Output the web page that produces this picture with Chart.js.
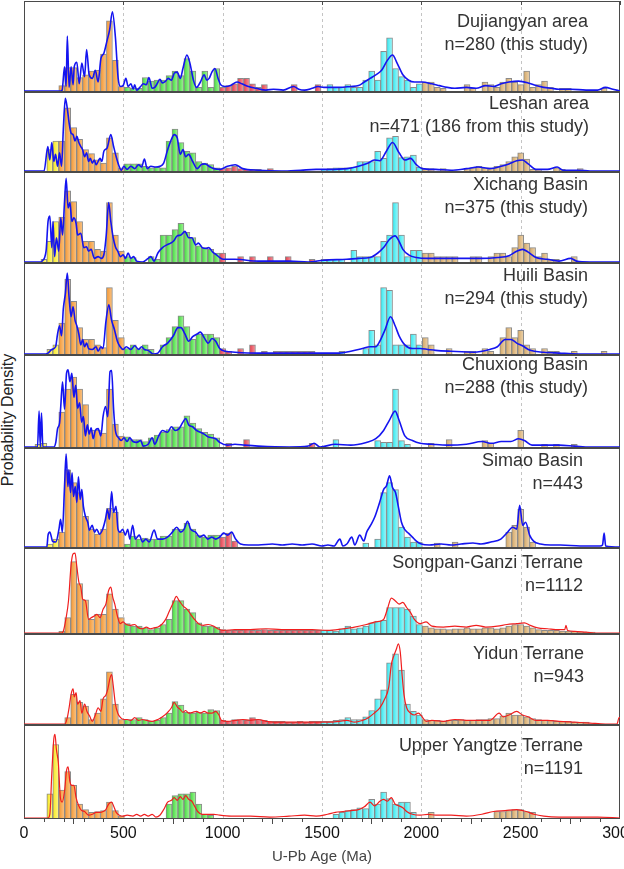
<!DOCTYPE html>
<html>
<head>
<meta charset="utf-8">
<title>Detrital zircon U-Pb age spectra</title>
<script src="https://cdn.jsdelivr.net/npm/chart.js@4.4.0/dist/chart.umd.min.js"></script>
<style>
  html, body { margin: 0; padding: 0; background: #fff; }
  #wrap { position: relative; width: 624px; height: 869px; overflow: hidden; font-family: "Liberation Sans", Arial, sans-serif; }
  #wrap canvas { position: absolute; left: 0; }
  .tag { position: absolute; text-align: right; font-size: 18px; line-height: 23px; color: #333; white-space: nowrap; }
  #ylab { position: absolute; left: 8px; top: 420px; transform: translate(-50%, -50%) rotate(-90deg); font-size: 16px; color: #222; white-space: nowrap; }
</style>
</head>
<body>
<div id="wrap">
  <div id="ylab">Probability Density</div>
</div>
<script>
// Panel titles and sample counts
const panelNames = ['Dujiangyan area', 'Leshan area', 'Xichang Basin', 'Huili Basin', 'Chuxiong Basin',
    'Simao Basin', 'Songpan-Ganzi Terrane', 'Yidun Terrane', 'Upper Yangtze Terrane'];
const panelCounts = ['n=280 (this study)', 'n=471 (186 from this study)', 'n=375 (this study)', 'n=294 (this study)',
    'n=288 (this study)', 'n=443', 'n=1112', 'n=943', 'n=1191'];

// Histogram bins: 30 Ma wide, centred at 10, 40, 70 ... 2980 Ma
const binWidth = 30;
const binCenters = Array.from({ length: 100 }, (_, j) => 10 + binWidth * j);
const xTicks = [0, 500, 1000, 1500, 2000, 2500, 3000];

// Bar heights (percent of panel height), one value per bin
const histDujiangyan = [
    0, 0, 0, 0, 0, 0, 6, 26, 26, 15,
    18, 22, 23, 41, 78, 34, 5, 4, 3, 3,
    15, 11, 12, 12, 17, 22, 17, 36, 22, 4,
    22, 4, 25, 4, 6, 8, 14, 14, 8, 4,
    7, 0, 0, 0, 0, 7, 0, 0, 0, 7,
    0, 7, 4, 4, 7, 4, 4, 12, 22, 12,
    44, 59, 25, 16, 12, 4, 8, 10, 10, 4,
    3, 0, 0, 0, 7, 3, 0, 10, 7, 4,
    10, 14, 10, 7, 22, 4, 7, 11, 4, 0,
    3, 3, 0, 0, 0, 0, 0, 3, 0, 0];
const histLeshan = [
    0, 0, 0, 0, 27, 38, 38, 80, 55, 40,
    27, 22, 14, 10, 42, 23, 4, 9, 9, 9,
    6, 4, 5, 4, 38, 53, 36, 25, 23, 12,
    10, 8, 4, 3, 4, 6, 3, 2, 2, 2,
    0, 3, 0, 0, 0, 0, 0, 0, 0, 0,
    2, 3, 4, 4, 4, 5, 12, 12, 12, 25,
    16, 42, 44, 17, 18, 20, 5, 3, 3, 0,
    3, 0, 0, 0, 3, 4, 6, 4, 4, 6,
    8, 12, 18, 23, 15, 2, 2, 0, 0, 4,
    2, 0, 0, 3, 0, 0, 0, 0, 0, 0];
const histXichang = [
    0, 0, 0, 3, 23, 45, 50, 79, 67, 45,
    23, 23, 14, 12, 66, 30, 12, 6, 5, 0,
    0, 6, 3, 30, 30, 36, 43, 33, 27, 18,
    16, 14, 10, 10, 0, 0, 6, 0, 6, 0,
    0, 6, 0, 0, 6, 0, 0, 0, 3, 0,
    3, 3, 3, 3, 0, 13, 6, 6, 6, 6,
    23, 30, 66, 30, 6, 13, 13, 10, 10, 6,
    6, 6, 6, 0, 0, 6, 6, 0, 6, 10,
    10, 6, 16, 30, 21, 16, 6, 10, 3, 3,
    0, 0, 6, 0, 0, 0, 0, 0, 0, 0];
const histHuili = [
    0, 0, 0, 0, 5, 10, 34, 82, 58, 29,
    16, 16, 10, 7, 73, 37, 18, 6, 10, 6,
    10, 5, 0, 10, 18, 30, 42, 30, 16, 22,
    22, 22, 18, 6, 3, 0, 6, 0, 10, 0,
    3, 0, 3, 3, 3, 3, 3, 3, 3, 0,
    0, 0, 0, 3, 0, 0, 0, 6, 26, 10,
    73, 70, 10, 10, 10, 22, 10, 18, 10, 0,
    0, 6, 0, 0, 3, 3, 0, 6, 3, 0,
    18, 29, 18, 26, 10, 6, 0, 6, 3, 3,
    0, 0, 3, 0, 0, 0, 0, 3, 0, 0];
const histChuxiong = [
    0, 0, 3, 4, 0, 0, 38, 63, 76, 63,
    46, 18, 18, 15, 63, 25, 12, 11, 8, 8,
    6, 10, 13, 16, 19, 22, 22, 34, 26, 20,
    16, 14, 10, 0, 4, 0, 0, 8, 0, 0,
    0, 0, 0, 0, 0, 0, 0, 0, 4, 0,
    0, 0, 8, 0, 0, 0, 0, 0, 0, 7,
    5, 5, 63, 7, 3, 0, 0, 0, 4, 0,
    0, 8, 0, 0, 0, 0, 0, 7, 4, 0,
    0, 0, 0, 18, 0, 0, 0, 3, 0, 3,
    0, 0, 3, 0, 0, 0, 0, 0, 0, 0];
const histSimao = [
    0, 0, 0, 0, 3, 8, 15, 78, 65, 55,
    31, 18, 13, 18, 39, 35, 15, 3, 11, 8,
    9, 8, 8, 11, 11, 18, 18, 24, 18, 12,
    10, 12, 12, 10, 14, 6, 0, 0, 0, 0,
    0, 0, 0, 0, 0, 0, 0, 0, 0, 0,
    0, 0, 0, 0, 0, 0, 0, 4, 0, 8,
    55, 65, 58, 20, 10, 5, 5, 0, 0, 4,
    0, 0, 5, 0, 0, 0, 0, 0, 0, 0,
    0, 15, 22, 38, 20, 5, 0, 0, 0, 0,
    0, 0, 0, 0, 0, 0, 0, 0, 0, 0];
const histSongpan = [
    0, 0, 0, 0, 0, 0, 2, 18, 84, 58,
    39, 16, 22, 22, 46, 28, 18, 11, 8, 8,
    6, 4, 6, 10, 16, 38, 38, 28, 24, 12,
    8, 8, 7, 4, 3, 3, 3, 4, 3, 3,
    4, 3, 3, 3, 3, 3, 3, 3, 3, 3,
    3, 3, 2, 5, 8, 5, 6, 8, 12, 14,
    15, 30, 30, 30, 28, 20, 10, 8, 6, 5,
    5, 4, 5, 5, 6, 5, 5, 6, 6, 5,
    6, 8, 10, 10, 8, 6, 4, 3, 3, 3,
    2, 2, 2, 1, 1, 1, 0, 0, 0, 0];
const histYidun = [
    0, 0, 0, 0, 0, 0, 0, 7, 33, 24,
    20, 5, 12, 28, 58, 22, 5, 5, 5, 7,
    5, 3, 4, 7, 12, 25, 21, 13, 12, 13,
    12, 16, 15, 4, 3, 5, 5, 4, 7, 5,
    4, 3, 3, 3, 2, 2, 3, 2, 3, 3,
    3, 3, 4, 5, 7, 5, 5, 8, 15, 28,
    38, 68, 78, 60, 22, 14, 10, 5, 4, 4,
    3, 4, 4, 5, 4, 4, 5, 5, 6, 6,
    9, 12, 10, 10, 8, 6, 5, 4, 4, 3,
    3, 3, 2, 2, 2, 0, 0, 0, 0, 0];
const histYangtze = [
    0, 0, 0, 0, 26, 79, 30, 50, 35, 15,
    9, 6, 7, 8, 17, 8, 2, 0, 0, 0,
    0, 0, 0, 0, 15, 24, 26, 26, 28, 15,
    4, 3, 0, 0, 0, 0, 0, 0, 0, 0,
    0, 0, 0, 0, 0, 0, 0, 0, 0, 0,
    0, 0, 4, 6, 8, 9, 11, 10, 20, 15,
    28, 21, 15, 17, 17, 6, 0, 0, 6, 0,
    0, 0, 0, 0, 0, 0, 0, 0, 0, 7,
    7, 8, 9, 9, 7, 6, 0, 0, 0, 0,
    0, 0, 0, 0, 0, 0, 0, 0, 0, 0];

// Probability density curves: [age Ma, percent of panel height]
const curveDujiangyan = [[0,0],[185,0],[192,1],[204,27],[212,5],[218,61],[227,4],[237,27],[247,7],[253,27],[266,32],[278,8],[291,31],[305,16],[315,46],[328,18],[344,14],[359,23],[373,10],[387,36],[402,42],[418,56],[431,68],[445,88],[460,60],[474,14],[486,5],[499,6],[513,14],[524,5],[538,8],[550,2],[557,7],[567,1],[587,5],[600,8],[616,7],[629,15],[645,3],[658,4],[670,8],[684,13],[697,9],[713,11],[726,14],[742,12],[757,20],[771,21],[787,14],[800,25],[820,40],[835,31],[853,12],[868,4],[888,10],[907,18],[920,12],[932,14],[946,21],[961,25],[977,14],[990,7],[1014,5],[1039,6],[1072,10],[1097,8],[1130,5],[1169,3],[1218,1],[1256,2],[1305,1],[1357,5],[1383,2],[1412,1],[1451,3],[1480,5],[1509,4],[1587,4],[1645,5],[1684,6],[1713,10],[1742,14],[1771,18],[1800,23],[1829,34],[1855,40],[1878,31],[1907,18],[1936,12],[1965,10],[2004,10],[2053,8],[2091,6],[2130,4],[2169,3],[2227,4],[2276,3],[2324,6],[2363,5],[2402,8],[2441,10],[2489,11],[2538,9],[2577,6],[2616,4],[2654,3],[2693,2],[2752,2],[2829,1],[2887,1],[2926,4],[2964,2],[3000,0]];
const curveLeshan = [[0,0],[101,0],[120,31],[130,14],[140,36],[150,12],[159,21],[169,6],[179,23],[189,6],[198,53],[208,92],[218,79],[227,61],[237,48],[247,46],[257,38],[266,44],[276,36],[286,31],[295,27],[305,18],[315,23],[325,12],[334,16],[344,10],[354,14],[363,8],[383,16],[392,12],[402,25],[418,29],[437,46],[451,31],[464,18],[476,8],[490,1],[503,6],[519,2],[538,6],[557,3],[577,8],[592,5],[606,15],[620,3],[639,6],[664,5],[684,6],[703,10],[723,27],[742,40],[756,46],[771,42],[787,21],[800,27],[814,18],[829,21],[849,12],[872,3],[892,8],[911,9],[931,6],[956,3],[985,2],[1024,6],[1063,8],[1101,3],[1179,1],[1296,0],[1393,1],[1470,2],[1529,2],[1626,3],[1684,6],[1733,10],[1762,14],[1791,13],[1824,25],[1855,36],[1888,23],[1917,14],[1946,16],[1975,8],[2004,3],[2072,2],[2150,1],[2227,3],[2286,5],[2344,3],[2402,6],[2441,9],[2480,13],[2509,14],[2538,9],[2577,2],[2635,2],[2684,5],[2713,1],[2791,1],[2849,0],[3000,0]];
const curveXichang = [[0,0],[85,0],[91,1],[111,12],[121,45],[130,51],[140,16],[146,45],[154,6],[163,27],[175,12],[185,49],[194,30],[204,67],[212,93],[222,60],[231,66],[241,45],[251,49],[262,43],[270,30],[286,32],[301,16],[315,17],[325,12],[338,14],[354,4],[373,6],[389,4],[402,8],[414,30],[426,66],[437,45],[449,27],[460,17],[472,12],[486,6],[499,8],[511,4],[524,10],[538,4],[552,6],[567,1],[596,0],[625,4],[639,6],[654,1],[674,10],[697,16],[719,19],[738,21],[752,23],[771,29],[790,30],[810,34],[829,27],[845,27],[864,19],[878,21],[897,16],[917,15],[930,16],[950,11],[969,8],[985,5],[1004,3],[1062,3],[1179,1],[1334,1],[1431,0],[1509,2],[1625,3],[1684,4],[1742,5],[1781,10],[1810,16],[1839,25],[1868,29],[1888,23],[1907,14],[1936,8],[1975,5],[2033,4],[2208,4],[2305,4],[2383,5],[2441,7],[2480,12],[2509,14],[2538,11],[2577,5],[2635,3],[2693,1],[2752,4],[2781,1],[2849,0],[3000,0]];
const curveHuili = [[0,0],[110,0],[121,1],[140,5],[159,8],[169,22],[179,31],[189,20],[198,50],[208,66],[218,89],[227,62],[237,41],[247,52],[257,37],[266,31],[276,22],[286,10],[295,16],[305,8],[315,12],[325,6],[344,5],[363,8],[373,3],[387,8],[398,6],[412,35],[427,54],[441,37],[455,27],[470,14],[484,8],[499,5],[515,8],[538,5],[557,9],[577,5],[592,8],[606,5],[625,4],[651,0],[674,1],[697,8],[723,12],[752,20],[775,29],[790,29],[810,22],[829,14],[849,19],[872,22],[888,24],[907,18],[927,12],[946,17],[965,14],[985,6],[1014,3],[1062,2],[1179,1],[1334,1],[1470,1],[1587,1],[1645,3],[1703,6],[1742,8],[1771,8],[1791,14],[1816,26],[1845,41],[1868,31],[1888,20],[1917,10],[1955,6],[1994,6],[2033,5],[2072,4],[2150,3],[2266,2],[2344,5],[2383,8],[2422,16],[2451,16],[2480,12],[2509,9],[2548,4],[2616,2],[2693,1],[2791,0],[3000,0]];
const curveChuxiong = [[0,0],[68,0],[76,39],[82,0],[88,37],[95,0],[150,0],[160,5],[169,20],[179,26],[185,44],[194,71],[204,41],[214,80],[222,84],[231,71],[241,80],[251,54],[260,67],[270,42],[280,48],[290,27],[299,33],[309,12],[319,24],[328,14],[338,21],[348,9],[359,18],[373,20],[387,12],[398,33],[410,44],[422,33],[433,82],[441,83],[451,41],[460,18],[476,10],[490,7],[503,10],[519,6],[532,10],[548,6],[567,5],[587,7],[600,1],[625,3],[645,10],[658,3],[678,12],[697,18],[723,16],[742,22],[761,18],[781,20],[800,27],[814,31],[829,24],[849,22],[868,18],[888,16],[907,14],[927,11],[946,10],[965,9],[985,5],[1024,2],[1062,3],[1111,2],[1179,1],[1334,0],[1431,1],[1460,4],[1490,0],[1567,3],[1645,2],[1723,5],[1771,9],[1810,18],[1839,29],[1868,39],[1888,29],[1917,12],[1955,7],[1994,4],[2053,3],[2130,2],[2227,3],[2305,6],[2354,4],[2402,6],[2451,6],[2489,9],[2519,7],[2557,2],[2616,2],[2693,2],[2771,1],[2849,0],[3000,0]];
const curveSimao = [[0,0],[115,0],[121,12],[130,15],[138,10],[143,6],[160,5],[176,18],[184,28],[193,15],[204,61],[212,94],[221,61],[226,78],[234,55],[242,75],[249,51],[258,61],[266,45],[274,71],[283,48],[291,58],[299,41],[309,31],[321,25],[329,17],[343,22],[355,15],[366,18],[380,13],[396,18],[410,28],[420,38],[430,28],[441,56],[451,35],[463,41],[473,18],[483,15],[497,18],[510,12],[522,18],[533,8],[547,22],[560,8],[580,12],[597,5],[613,8],[630,5],[655,17],[672,8],[697,8],[722,10],[747,15],[769,20],[789,15],[806,18],[823,26],[839,18],[864,15],[885,10],[905,12],[925,8],[945,10],[965,8],[985,10],[1005,14],[1025,12],[1045,15],[1065,8],[1090,3],[1130,2],[1180,2],[1250,3],[1300,2],[1350,3],[1400,2],[1450,3],[1500,1],[1530,2],[1560,1],[1590,8],[1605,1],[1625,3],[1650,10],[1665,2],[1690,12],[1710,6],[1725,15],[1745,22],[1765,30],[1790,45],[1810,58],[1825,62],[1840,72],[1855,60],[1870,55],[1885,40],[1900,25],[1915,18],[1935,14],[1955,10],[1975,6],[2000,3],[2040,2],[2100,3],[2150,2],[2200,3],[2260,4],[2300,3],[2350,5],[2400,8],[2430,14],[2460,20],[2480,18],[2495,42],[2510,22],[2525,25],[2545,12],[2565,6],[2600,3],[2650,2],[2700,2],[2800,1],[2900,1],[2912,2],[2920,14],[2928,1],[3000,0]];
const curveSongpan = [[0,0],[190,0],[198,2],[212,18],[224,38],[237,80],[247,93],[257,94],[266,78],[276,60],[286,54],[295,40],[309,38],[325,16],[338,18],[354,20],[367,22],[383,18],[398,28],[412,34],[426,50],[437,54],[447,42],[457,34],[470,20],[484,11],[499,13],[515,10],[538,9],[557,10],[577,6],[596,5],[616,7],[635,5],[654,6],[674,7],[693,10],[713,16],[732,26],[752,36],[767,43],[781,38],[800,32],[820,28],[839,22],[858,16],[878,11],[903,9],[927,10],[956,8],[975,5],[1004,3],[1062,4],[1140,4],[1218,5],[1296,4],[1373,4],[1451,4],[1529,3],[1606,5],[1664,7],[1723,10],[1771,13],[1810,16],[1829,28],[1849,41],[1868,38],[1888,34],[1907,36],[1926,30],[1946,24],[1965,16],[1994,11],[2024,13],[2053,8],[2111,7],[2169,8],[2227,7],[2276,9],[2324,7],[2383,8],[2431,10],[2480,11],[2519,12],[2548,9],[2586,6],[2635,5],[2693,4],[2722,4],[2728,9],[2736,3],[2771,2],[2829,1],[2888,0],[3000,0]];
const curveYidun = [[0,0],[205,0],[218,7],[227,18],[237,33],[247,39],[253,30],[262,35],[270,22],[282,26],[291,12],[305,22],[317,14],[330,9],[344,3],[359,10],[373,18],[387,14],[398,28],[412,32],[422,39],[433,51],[441,55],[449,43],[460,22],[472,12],[486,7],[503,5],[519,5],[538,4],[557,7],[577,4],[596,5],[616,4],[645,3],[674,5],[697,8],[723,13],[742,18],[756,24],[771,19],[787,16],[800,13],[814,15],[829,12],[849,13],[868,14],[888,12],[907,14],[927,12],[946,12],[965,14],[981,10],[994,4],[1024,3],[1062,4],[1101,5],[1140,4],[1179,5],[1218,3],[1296,2],[1373,2],[1451,2],[1529,2],[1587,3],[1625,4],[1664,2],[1703,4],[1733,7],[1762,12],[1791,18],[1816,28],[1836,41],[1849,66],[1862,76],[1874,83],[1884,89],[1894,80],[1903,55],[1913,32],[1926,18],[1946,12],[1965,10],[1985,12],[2004,8],[2024,3],[2053,4],[2111,3],[2169,5],[2227,4],[2286,4],[2344,4],[2392,12],[2412,8],[2441,10],[2480,14],[2509,10],[2538,8],[2577,4],[2635,4],[2693,3],[2771,2],[2849,1],[2926,0],[2985,0],[2995,7],[3000,7]];
const curveYangtze = [[0,0],[120,0],[130,4],[140,48],[150,85],[156,90],[163,74],[173,59],[183,22],[192,17],[204,29],[214,51],[222,55],[231,39],[241,35],[251,35],[262,22],[276,13],[290,8],[305,7],[325,3],[344,4],[363,6],[383,6],[398,7],[412,9],[426,15],[441,17],[451,13],[464,6],[480,3],[499,2],[519,3],[548,2],[567,4],[587,2],[606,4],[625,2],[645,4],[664,1],[684,3],[703,9],[723,17],[742,19],[756,22],[771,19],[787,23],[800,20],[814,24],[829,20],[845,18],[858,13],[874,7],[897,4],[927,4],[956,4],[985,3],[1043,2],[1140,2],[1237,1],[1334,2],[1412,3],[1470,2],[1528,4],[1567,6],[1606,7],[1645,8],[1684,9],[1713,12],[1742,17],[1765,13],[1791,18],[1810,20],[1829,18],[1849,22],[1868,15],[1888,13],[1907,11],[1926,7],[1955,4],[1994,3],[2033,4],[2072,3],[2150,3],[2227,2],[2305,4],[2363,7],[2422,8],[2480,9],[2528,7],[2567,4],[2616,2],[2693,1],[2791,1],[2888,1],[3000,0]];

// Layout: panel borders in page pixels (top of panel 1 ... bottom of panel 9)
const panelEdges = [0, 92, 172, 263, 355, 448, 548, 634, 725, 818];
const tagCenters = [21, 103, 184, 275, 364, 460, 562, 653, 745];
const tagRights = [588, 589, 588, 588, 588, 583, 583, 584, 583];

const panels = [
    { hist: histDujiangyan, curve: curveDujiangyan, line: '#1414f0' },
    { hist: histLeshan, curve: curveLeshan, line: '#1414f0' },
    { hist: histXichang, curve: curveXichang, line: '#1414f0' },
    { hist: histHuili, curve: curveHuili, line: '#1414f0' },
    { hist: histChuxiong, curve: curveChuxiong, line: '#1414f0' },
    { hist: histSimao, curve: curveSimao, line: '#1414f0' },
    { hist: histSongpan, curve: curveSongpan, line: '#f01e1e' },
    { hist: histYidun, curve: curveYidun, line: '#f01e1e' },
    { hist: histYangtze, curve: curveYangtze, line: '#f01e1e' }
];

const fontFamily = '"Liberation Sans", Arial, sans-serif';

// Bar colour by age group: [strong edge, pale edge]
function binColors(age) {
    if (age < 180) return ['#f5e61e', '#fff78a'];
    if (age < 500) return ['#f5962f', '#f9c487'];
    if (age < 990) return ['#3fdc3a', '#a6f29c'];
    if (age < 1500) return ['#e63a48', '#f4979f'];
    if (age < 2000) return ['#2ee8f0', '#a4f7fa'];
    return ['#d4a764', '#ecd3ae'];
}

function barFill(context) {
    const raw = context.raw;
    const chart = context.chart;
    if (!raw) return '#ccc';
    const colors = binColors(raw.x);
    const xs = chart.scales.x;
    if (!xs || !chart.chartArea) return colors[0];
    const x0 = xs.getPixelForValue(raw.x - binWidth / 2);
    const x1 = xs.getPixelForValue(raw.x + binWidth / 2);
    const g = chart.ctx.createLinearGradient(x0, 0, x1, 0);
    g.addColorStop(0, colors[0]);
    g.addColorStop(1, colors[1]);
    return g;
}

// Frame, dashed age lines and small ticks
const framePlugin = {
    id: 'frame',
    beforeDatasetsDraw(chart, args, opts) {
        const { ctx, chartArea: a, scales: { x } } = chart;
        ctx.save();
        ctx.strokeStyle = '#c4c4c4';
        ctx.lineWidth = 1;
        ctx.setLineDash([3, 3]);
        [500, 1000, 1500, 2000, 2500].forEach(function(age) {
            const px = Math.round(x.getPixelForValue(age)) + 0.5;
            ctx.beginPath();
            ctx.moveTo(px, a.top);
            ctx.lineTo(px, a.bottom);
            ctx.stroke();
        });
        ctx.setLineDash([]);
        ctx.strokeStyle = '#4a4a4a';
        ctx.strokeRect(Math.round(a.left) + 0.5, Math.round(a.top) + 0.5,
            Math.round(a.right - a.left) - 1, Math.round(a.bottom - a.top));
        if (opts.topTicks) {
            xTicks.forEach(function(age) {
                const px = Math.round(x.getPixelForValue(age)) + 0.5;
                ctx.beginPath();
                ctx.moveTo(px, a.top);
                ctx.lineTo(px, a.top + 4);
                ctx.stroke();
            });
        }
        if (opts.minorTicks) {
            for (let age = 100; age < 3000; age += 100) {
                if (age % 500 === 0) continue;
                const px = Math.round(x.getPixelForValue(age)) + 0.5;
                ctx.beginPath();
                ctx.moveTo(px, a.bottom);
                ctx.lineTo(px, a.bottom + 4);
                ctx.stroke();
            }
        }
        ctx.restore();
    }
};

const wrap = document.getElementById('wrap');

panels.forEach(function(p, i) {
    const isLast = i === panels.length - 1;
    const top = panelEdges[i];
    const height = (isLast ? 869 : panelEdges[i + 1]) - top;

    const canvas = document.createElement('canvas');
    canvas.width = 624;
    canvas.height = height;
    canvas.style.top = top + 'px';
    wrap.appendChild(canvas);

    // panel title
    const tag = document.createElement('div');
    tag.className = 'tag';
    tag.style.top = (tagCenters[i] - 11.5) + 'px';
    tag.style.right = (624 - tagRights[i]) + 'px';
    tag.innerHTML = panelNames[i] + '<br>' + panelCounts[i];
    wrap.appendChild(tag);

    const bars = [];
    p.hist.forEach(function(v, j) {
        if (v > 0) bars.push({ x: binCenters[j], y: v });
    });

    new Chart(canvas, {
        type: 'line',
        data: {
            datasets: [{
                type: 'line',
                data: p.curve.map(function(pt) { return { x: pt[0], y: pt[1] }; }),
                borderColor: p.line,
                borderWidth: i < 6 ? 1.6 : 1.2,
                pointRadius: 0,
                fill: false,
                cubicInterpolationMode: 'monotone'
            }, {
                type: 'bar',
                data: bars,
                backgroundColor: barFill,
                borderColor: '#8a8a8a',
                borderWidth: 1,
                borderSkipped: 'start',
                barPercentage: 1,
                categoryPercentage: 1,
                grouped: false
            }]
        },
        options: {
            responsive: false,
            animation: false,
            events: [],
            layout: {
                autoPadding: false,
                padding: { left: 24, right: 4, top: i === 0 ? 1 : 0, bottom: isLast ? 0 : 1 }
            },
            plugins: {
                legend: { display: false },
                tooltip: { enabled: false },
                frame: { topTicks: i === 0, minorTicks: isLast }
            },
            scales: {
                x: {
                    type: 'linear',
                    min: 0,
                    max: 3000,
                    offset: false,
                    display: isLast,
                    afterBuildTicks: function(scale) {
                        scale.ticks = xTicks.map(function(v) { return { value: v }; });
                    },
                    afterFit: function(scale) {
                        if (!isLast) return;
                        scale.height = 51;
                        scale.paddingLeft = 0;
                        scale.paddingRight = 0;
                    },
                    ticks: {
                        color: '#111',
                        font: { size: 16, family: fontFamily },
                        padding: 0,
                        maxRotation: 0,
                        autoSkip: false,
                        callback: function(value) { return String(value); }
                    },
                    grid: { drawOnChartArea: false, drawTicks: true, tickLength: 6, color: '#4a4a4a' },
                    border: { display: false },
                    title: {
                        display: true,
                        text: 'U-Pb Age (Ma)',
                        color: '#444',
                        font: { size: 15, family: fontFamily },
                        padding: { top: 0, bottom: 3 }
                    }
                },
                y: { display: false, min: 0, max: 100 }
            }
        },
        plugins: [framePlugin]
    });
});
</script>
</body>
</html>
